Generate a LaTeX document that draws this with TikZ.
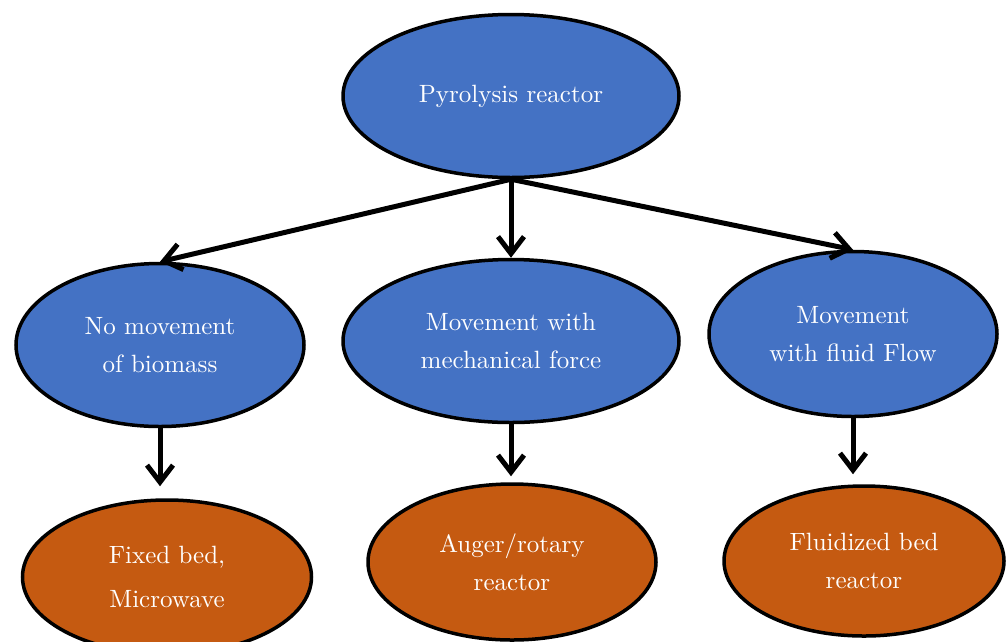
\documentclass[tikz,border=0pt]{standalone}
\usepackage{fontspec}
\setmainfont{lmroman10-regular.otf}
\usetikzlibrary{shapes.geometric,arrows.meta}
\definecolor{catblue}{HTML}{4472C4}
\definecolor{typeorange}{HTML}{C55A11}
\tikzset{
  oval/.style={ellipse, draw=black, line width=3.5pt, text=white, inner sep=0pt,
    align=center, node font=\fontsize{25}{38}\selectfont},
  blueoval/.style={oval, fill=catblue},
  orangeoval/.style={oval, fill=typeorange},
  flow/.style={line width=5pt, -{Straight Barb[length=17pt,width=26pt,line width=5pt]}},
}
\begin{document}
\begin{tikzpicture}[x=1pt,y=-1pt]
\useasboundingbox (0,0) rectangle (1006,641);
\clip (0,0) rectangle (1006,641);

% reactor classes
\node[blueoval, minimum width=336pt, minimum height=163pt] (root) at (511,96) {Pyrolysis reactor};
\node[blueoval, minimum width=288pt, minimum height=163pt] (nomove) at (160,345) {No movement\\of biomass};
\node[blueoval, minimum width=336pt, minimum height=163pt] (mech) at (511,341) {Movement with\\mechanical force};
\node[blueoval, minimum width=288pt, minimum height=165pt] (fluid) at (853,334) {Movement\\with fluid Flow};

% reactor types
\node[orangeoval, minimum width=289pt, minimum height=154pt, node font=\fontsize{25}{44}\selectfont] (fixed) at (167,577) {Fixed bed,\\Microwave};
\node[orangeoval, minimum width=288pt, minimum height=156pt] (auger) at (512,562) {Auger/rotary\\reactor};
\node[orangeoval, minimum width=280pt, minimum height=150pt] (fbed) at (864,561) {Fluidized bed\\reactor};

% branches from the root
\draw[flow] (root.south) -- (nomove.north);
\draw[flow] (root.south) -- (mech.north);
\draw[flow] (root.south) -- (fluid.north);

% class to type
\draw[flow, shorten >=12pt] (nomove.south) -- (nomove.south |- fixed.north);
\draw[flow, shorten >=6pt] (mech.south) -- (mech.south |- auger.north);
\draw[flow, shorten >=10pt] (fluid.south) -- (fluid.south |- fbed.north);
\end{tikzpicture}
\end{document}
